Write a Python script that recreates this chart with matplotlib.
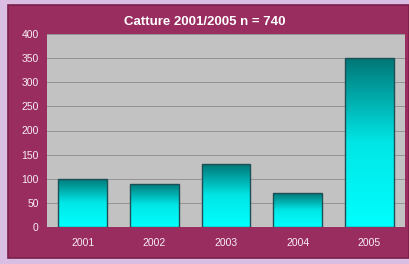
import matplotlib
matplotlib.use("Agg")
import matplotlib.pyplot as plt
from matplotlib.patches import Rectangle
from matplotlib.colors import LinearSegmentedColormap
import numpy as np

years = ["2001", "2002", "2003", "2004", "2005"]
catture = [100, 90, 130, 70, 350]
titolo = "Catture 2001/2005 n = 740"

plt.rcParams['font.family'] = ['Liberation Sans', 'DejaVu Sans']

fig = plt.figure(figsize=(4.09, 2.64), dpi=100, facecolor="#d9bde2")
# maroon panel
panel = Rectangle((8 / 409, 6 / 264), 401 / 409, 253 / 264, transform=fig.transFigure,
                  facecolor="#9a2d60", edgecolor="#7a1f4a", linewidth=1.2, zorder=-10)
fig.patches.append(panel)

ax = fig.add_axes([47 / 409, 1 - 227 / 264, 358 / 409, 193 / 264])
ax.set_zorder(1)
ax.set_facecolor("#c2c2c2")
ax.set_yticks(range(0, 401, 50))
ax.yaxis.grid(True, color="#939393", linewidth=0.7)
ax.set_axisbelow(True)

cmap = LinearSegmentedColormap.from_list("teal", ["#00ffff", "#00e6e6", "#007676"])
grad = np.linspace(0, 1, 256).reshape(-1, 1)
x = np.arange(len(years))
bars = ax.bar(x, catture, width=0.68, facecolor="none", edgecolor="#1d4f55", linewidth=1.0, zorder=3)
for b in bars:
    x0, y0 = b.get_x(), b.get_y()
    w, h = b.get_width(), b.get_height()
    im = ax.imshow(grad, cmap=cmap, aspect="auto", origin="lower",
                   extent=(x0, x0 + w, y0, y0 + h), zorder=2)
    im.set_clip_path(b)
ax.set_xlim(-0.5, len(years) - 0.5)
ax.set_ylim(0, 400)

ax.set_xticks(x)
ax.set_xticklabels(years)
ax.tick_params(colors="#f6eef4", labelsize=7.5, length=0, pad=8)
ax.tick_params(axis="y", pad=6)
for s in ax.spines.values():
    s.set_visible(False)

fig.text(0.5, 1 - 22 / 264, titolo, ha="center", va="center", color="white",
         fontsize=9.5, fontweight="bold")

fig.savefig("out.png", dpi=100, facecolor=fig.get_facecolor())
